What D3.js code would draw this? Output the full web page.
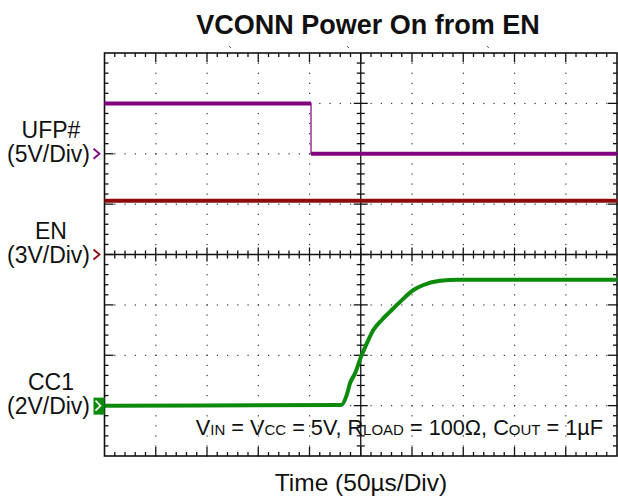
<!DOCTYPE html>
<html>
<head>
    <title></title>
    <meta charset="utf-8">
    <style>
        body { margin: 0; background: #fff; }
        text { font-family: Arial, 'Liberation Sans', sans-serif; }
    </style>
</head>
<body>
<script src="https://cdn.jsdelivr.net/npm/d3@7"></script>
<script>
    // time in microseconds, voltages in volts
    var ufpTime = [0, 201.5, 201.5, 500];
    var ufpVolt = [5, 5, 0, 0];
    var enTime = [0, 500];
    var enVolt = [3.2, 3.2];
    var cc1Time = [0, 230.8, 236.3, 239.5, 244.4, 250.3, 255.9, 262.3, 270.5, 278.6, 288.4, 301.4, 311.1, 327.4, 345, 500];
    var cc1Volt = [0, 0.02, 0.42, 0.88, 1.28, 1.94, 2.47, 3.0, 3.4, 3.73, 4.12, 4.59, 4.79, 4.96, 5.0, 5.0];

    var channels = [
        {name: 'UFP#', scale: '(5V/Div)', perDiv: 5, ground: 2, color: '#82037f', t: ufpTime, v: ufpVolt},
        {name: 'EN', scale: '(3V/Div)', perDiv: 3, ground: 0, color: '#8c0c0c', t: enTime, v: enVolt},
        {name: 'CC1', scale: '(2V/Div)', perDiv: 2, ground: -3, color: '#0b8a0b', t: cc1Time, v: cc1Volt}
    ];

    var W = 618, H = 498;
    var plot = {left: 104.5, right: 617, top: 53, bottom: 456};

    var svg = d3.select('body').append('svg')
        .attr('width', W)
        .attr('height', H);

    var x = d3.scaleLinear().domain([0, 500]).range([plot.left, plot.right]);
    var y = d3.scaleLinear().domain([-4, 4]).range([plot.bottom, plot.top]);

    var majorT = d3.range(0, 501, 50);
    var minorT = d3.range(0, 501, 10);
    var majorD = d3.range(-4, 4.01, 1);
    var minorD = d3.range(-4, 4.01, 0.2);

    // dotted grid
    var grid = svg.append('g').attr('fill', '#333');
    majorT.slice(1, -1).forEach(function (t) {
        if (t === 250) return;
        minorD.forEach(function (d) {
            grid.append('rect').attr('x', x(t) - 0.5).attr('y', y(d) - 0.5).attr('width', 1.2).attr('height', 1.2);
        });
    });
    majorD.slice(1, -1).forEach(function (d) {
        if (d === 0) return;
        minorT.forEach(function (t) {
            grid.append('rect').attr('x', x(t) - 0.5).attr('y', y(d) - 0.5).attr('width', 1.2).attr('height', 1.2);
        });
    });

    var axes = svg.append('g').attr('stroke', '#111').attr('stroke-width', 1.3).attr('fill', 'none');

    // centre cross lines
    axes.append('line').attr('x1', x(250)).attr('x2', x(250)).attr('y1', plot.top).attr('y2', plot.bottom);
    axes.append('line').attr('x1', plot.left).attr('x2', plot.right).attr('y1', y(0)).attr('y2', y(0));

    function isMajorT(t) { return t % 50 === 0; }
    function isMajorD(d) { return Math.abs(d - Math.round(d)) < 1e-6; }

    minorT.forEach(function (t) {
        var big = isMajorT(t);
        if (t === 0 || t === 500) return;
        var l1 = big ? 9 : 4;
        axes.append('line').attr('x1', x(t)).attr('x2', x(t)).attr('y1', plot.top).attr('y2', plot.top + l1);
        axes.append('line').attr('x1', x(t)).attr('x2', x(t)).attr('y1', plot.bottom).attr('y2', plot.bottom - l1);
        var l2 = big ? 7 : 4;
        axes.append('line').attr('x1', x(t)).attr('x2', x(t)).attr('y1', y(0) - l2).attr('y2', y(0) + l2);
    });
    minorD.forEach(function (d) {
        var big = isMajorD(d);
        if (Math.abs(d) > 3.99) return;
        var l1 = big ? 9 : 4;
        axes.append('line').attr('y1', y(d)).attr('y2', y(d)).attr('x1', plot.left).attr('x2', plot.left + l1);
        axes.append('line').attr('y1', y(d)).attr('y2', y(d)).attr('x1', plot.right).attr('x2', plot.right - l1);
        var l2 = big ? 7 : 4;
        axes.append('line').attr('y1', y(d)).attr('y2', y(d)).attr('x1', x(250) - l2).attr('x2', x(250) + l2);
    });

    axes.append('rect')
        .attr('x', plot.left).attr('y', plot.top)
        .attr('width', plot.right - plot.left).attr('height', plot.bottom - plot.top)
        .attr('stroke-width', 1.6);

    // small trigger marks above the frame
    [122.5, 237.5, 374].forEach(function (t) {
        svg.append('line').attr('x1', x(t) - 1).attr('x2', x(t) + 1).attr('y1', 46).attr('y2', 48)
            .attr('stroke', '#555').attr('stroke-width', 1);
    });

    // traces
    channels.forEach(function (ch) {
        var cy = function (v) { return y(ch.ground + v / ch.perDiv); };
        var pts = ch.t.map(function (t, i) { return [x(t), cy(ch.v[i])]; });
        var line = d3.line().curve(ch.name === 'CC1' ? d3.curveMonotoneX : d3.curveLinear);
        svg.append('path')
            .attr('d', line(pts))
            .attr('fill', 'none')
            .attr('stroke', ch.color)
            .attr('stroke-width', ch.name === 'UFP#' ? 1.6 : 4)
            .attr('stroke-opacity', ch.name === 'UFP#' ? 0.75 : 1)
            .attr('stroke-linejoin', 'round');
        if (ch.name === 'UFP#') {
            for (var i = 0; i < pts.length - 1; i++) {
                if (ch.v[i] === ch.v[i + 1]) {
                    svg.append('path')
                        .attr('d', line([pts[i], pts[i + 1]]))
                        .attr('stroke', ch.color)
                        .attr('stroke-width', 4);
                }
            }
        }

        // labels
        var gy = y(ch.ground);
        svg.append('text').attr('x', 51).attr('y', gy - 16).attr('text-anchor', 'middle')
            .attr('font-size', 23).attr('fill', '#111').text(ch.name);
        svg.append('text').attr('x', 48.5).attr('y', gy + 8).attr('text-anchor', 'middle')
            .attr('font-size', 23).attr('fill', '#111').text(ch.scale);

        if (ch.name === 'CC1') {
            svg.append('path')
                .attr('d', 'M' + (plot.left - 11) + ',' + (gy - 8) + 'H' + (plot.left) + 'V' + (gy + 9) + 'H' + (plot.left - 11) + 'Z')
                .attr('fill', ch.color);
            svg.append('path')
                .attr('d', 'M' + (plot.left - 9) + ',' + (gy - 5) + 'L' + (plot.left - 4) + ',' + gy + 'L' + (plot.left - 9) + ',' + (gy + 5))
                .attr('fill', 'none').attr('stroke', '#fff').attr('stroke-width', 1.6);
        } else {
            svg.append('path')
                .attr('d', 'M' + (plot.left - 11) + ',' + (gy - 5) + 'L' + (plot.left - 5) + ',' + gy + 'L' + (plot.left - 11) + ',' + (gy + 5))
                .attr('fill', 'none').attr('stroke', ch.color).attr('stroke-width', 1.8);
        }
    });

    // title
    svg.append('text').attr('x', 368).attr('y', 34).attr('text-anchor', 'middle')
        .attr('font-size', 27).attr('font-weight', 'bold').attr('fill', '#111')
        .text('VCONN Power On from EN');

    // conditions note
    var note = [['V', ''], ['IN', 's'], [' = V', ''], ['CC', 's'], [' = 5V, R', ''], ['LOAD', 's'], [' = 100\u03A9, C', ''], ['OUT', 's'], [' = 1\u00B5F', '']];
    var nt = svg.append('text').attr('x', 603).attr('y', 435).attr('text-anchor', 'end')
        .attr('font-size', 21.7).attr('fill', '#111');
    note.forEach(function (p) {
        nt.append('tspan').attr('font-size', p[1] ? 15 : 21.7).text(p[0]);
    });

    // x label
    svg.append('text').attr('x', 361).attr('y', 491).attr('text-anchor', 'middle')
        .attr('font-size', 24.5).attr('fill', '#111')
        .text('Time  (50\u00B5s/Div)');
</script>
</body>
</html>
